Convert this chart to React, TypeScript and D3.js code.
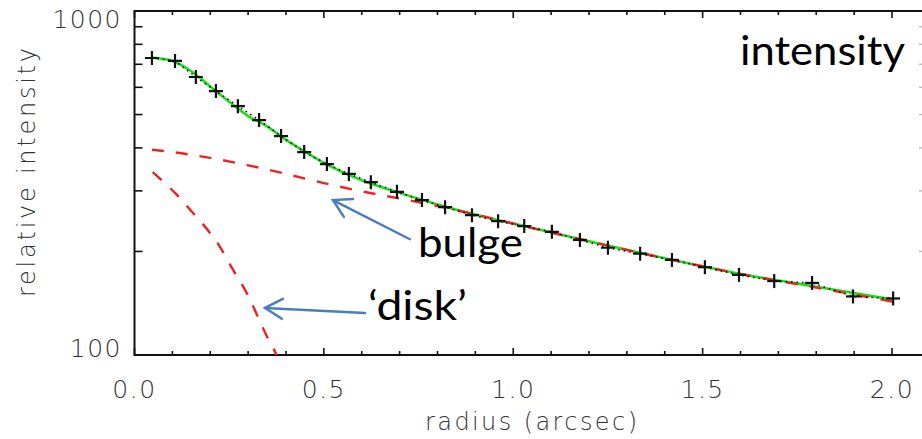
import React from "react";
import * as d3 from "d3";

// measured profile (radius in arcsec, relative intensity)
const dataRadius = [0.046, 0.107, 0.162, 0.215, 0.273, 0.329, 0.387, 0.448, 0.508, 0.566, 0.624, 0.693, 0.759, 0.82, 0.891, 0.96, 1.029, 1.102, 1.176, 1.25, 1.335, 1.419, 1.506, 1.596, 1.689, 1.789, 1.897, 2.003];
const dataIntensity = [730, 716, 643, 585, 529, 482, 433, 389, 359, 336, 318, 298, 282, 269, 255, 245, 237, 228, 216, 205, 197, 189, 180, 171, 164, 162, 148, 146];

// total fit (green)
const fitRadius = [0.046, 0.1, 0.15, 0.2, 0.25, 0.3, 0.35, 0.4, 0.45, 0.5, 0.6, 0.7, 0.8, 0.9, 1.0, 1.2, 1.4, 1.6, 1.8, 2.0];
const fitIntensity = [732, 716, 668, 603, 545, 495, 462, 422, 390, 362, 322, 296, 274, 256, 241, 214, 191, 172, 158, 145];

// bulge component (red dashed)
const bulgeRadius = [0.046, 0.1, 0.2, 0.3, 0.4, 0.5, 0.6, 0.7, 0.8, 0.9, 1.0, 1.2, 1.4, 1.6, 1.8, 2.0];
const bulgeIntensity = [395, 389, 374, 356, 336, 316, 299, 285, 271, 256, 241, 214, 191, 172, 157, 143];

// disk component (red dashed)
const diskRadius = [0.048, 0.112, 0.154, 0.2, 0.226, 0.26, 0.297, 0.326, 0.35, 0.366, 0.38];
const diskIntensity = [340, 292, 259, 226, 206, 177, 151, 129, 113, 105, 97];

const xTicksMajor = [0, 0.5, 1.0, 1.5, 2.0];
const xTickLabels = ["0.0", "0.5", "1.0", "1.5", "2.0"];
const yMinorTicks = [200, 300, 400, 500, 600, 700, 800, 900];
const yTickLabels = ["100", "1000"];

const W = 922;
const H = 439;

export default function App() {
  const x = d3.scaleLinear().domain([0, 2]).range([134.5, 892]);
  const y = d3.scaleLog().domain([100, 1000]).range([355, 11]);
  const left = x(0);
  const top = y(1000);
  const bottom = y(100);
  const rightEdge = x(2.08);

  const line = d3
    .line<[number, number]>()
    .x((d) => x(d[0]))
    .y((d) => y(d[1]))
    .curve(d3.curveMonotoneX);
  const straight = d3
    .line<[number, number]>()
    .x((d) => x(d[0]))
    .y((d) => y(d[1]));

  const zip = (a: number[], b: number[]) => a.map((v, i) => [v, b[i]] as [number, number]);

  const minorX = d3.range(0, 21).map((i) => i / 10);
  const axisFont = "'DejaVu Sans', sans-serif";
  const axisColor = "#333";
  const blue = "#4a7ebb";

  const arrow = (x1: number, y1: number, x2: number, y2: number, key: string) => {
    // from tail (x1,y1) to tip (x2,y2), data coords
    const tx = x(x1), ty = y(y1), hx = x(x2), hy = y(y2);
    const ang = Math.atan2(ty - hy, tx - hx);
    const L = 20;
    const a1 = ang + Math.PI / 6, a2 = ang - Math.PI / 6;
    return (
      <g key={key} stroke={blue} strokeWidth={2.5} fill="none" strokeLinecap="round">
        <line x1={tx} y1={ty} x2={hx} y2={hy} />
        <polyline
          points={`${hx + L * Math.cos(a1)},${hy + L * Math.sin(a1)} ${hx},${hy} ${hx + L * Math.cos(a2)},${hy + L * Math.sin(a2)}`}
          strokeLinejoin="miter"
        />
      </g>
    );
  };

  return (
    <svg width={W} height={H} style={{ position: "absolute", left: 0, top: 0, background: "#fff" }}>
      <defs>
        <clipPath id="plot">
          <rect x={left} y={top} width={rightEdge - left} height={bottom - top} />
        </clipPath>
      </defs>

      {/* frame */}
      <g stroke="#111" strokeWidth={2} fill="none">
        <line x1={left} y1={top} x2={W} y2={top} />
        <line x1={left} y1={bottom} x2={W} y2={bottom} />
        <line x1={left} y1={top - 1} x2={left} y2={bottom + 1} />
      </g>

      {/* x ticks */}
      <g stroke="#111" strokeWidth={1.6}>
        {minorX.map((v) => {
          const major = xTicksMajor.some((m) => Math.abs(m - v) < 1e-6);
          const len = major ? 7 : 4;
          return (
            <g key={"xt" + v}>
              <line x1={x(v)} x2={x(v)} y1={bottom} y2={bottom - len} />
              <line x1={x(v)} x2={x(v)} y1={top} y2={top + len} />
            </g>
          );
        })}
      </g>

      {/* y ticks */}
      <g stroke="#111" strokeWidth={1.6}>
        {yMinorTicks.map((v) => (
          <line key={"yt" + v} x1={left} x2={left + 8} y1={y(v)} y2={y(v)} />
        ))}
      </g>
      <g stroke="#bbb" strokeWidth={1.4}>
        {yMinorTicks.map((v) => (
          <line key={"yr" + v} x1={W - 3} x2={W} y1={y(v)} y2={y(v)} />
        ))}
      </g>

      {/* tick labels */}
      <g fontFamily={axisFont} fontWeight={200} fontSize={25} fill={axisColor} letterSpacing={1.5}>
        {xTicksMajor.map((v, i) => (
          <text key={"xl" + v} x={x(v)} y={398} textAnchor="middle">
            {xTickLabels[i]}
          </text>
        ))}
        <text x={122} y={357} textAnchor="end">{yTickLabels[0]}</text>
        <text x={122} y={28} textAnchor="end">{yTickLabels[1]}</text>
      </g>

      {/* axis titles */}
      <g fontFamily={axisFont} fontWeight={200} fontSize={24} fill={axisColor}>
        <text x={425} y={430} textLength={212} lengthAdjust="spacing">radius (arcsec)</text>
        <text
          transform={`translate(35,297) rotate(-90)`}
          x={0}
          y={0}
          textLength={249}
          lengthAdjust="spacing"
        >
          relative intensity
        </text>
      </g>

      {/* curves */}
      <g clipPath="url(#plot)" fill="none">
        <path d={line(zip(fitRadius, fitIntensity)) || ""} stroke="#19e019" strokeWidth={2.6} />
        <path d={line(zip(bulgeRadius, bulgeIntensity)) || ""} stroke="#ee2222" strokeWidth={2.4} strokeDasharray="12,12" />
        <path d={line(zip(diskRadius, diskIntensity)) || ""} stroke="#ee2222" strokeWidth={2.4} strokeDasharray="12,12" />
        <path d={straight(zip(dataRadius, dataIntensity)) || ""} stroke="#111" strokeWidth={1.6} strokeDasharray="1.5,4" />
        <g stroke="#111" strokeWidth={2.2}>
          {dataRadius.map((r, i) => {
            const cx = x(r), cy = y(dataIntensity[i]);
            const s = 7;
            return (
              <g key={"p" + i}>
                <line x1={cx - s} x2={cx + s} y1={cy} y2={cy} />
                <line x1={cx} x2={cx} y1={cy - s} y2={cy + s} />
              </g>
            );
          })}
        </g>
      </g>

      {/* annotations */}
      {arrow(0.727, 217, 0.524, 282, "a1")}
      {arrow(0.6086, 132.5, 0.3446, 137, "a2")}
      <g fontFamily="Lato, 'Open Sans', sans-serif" fontSize={40} fill="#000">
        <text x={740} y={65} textLength={165} lengthAdjust="spacingAndGlyphs">intensity</text>
        <text x={418} y={257} textLength={105} lengthAdjust="spacingAndGlyphs">bulge</text>
        <text x={368} y={320} textLength={99} lengthAdjust="spacingAndGlyphs">‘disk’</text>
      </g>
    </svg>
  );
}
